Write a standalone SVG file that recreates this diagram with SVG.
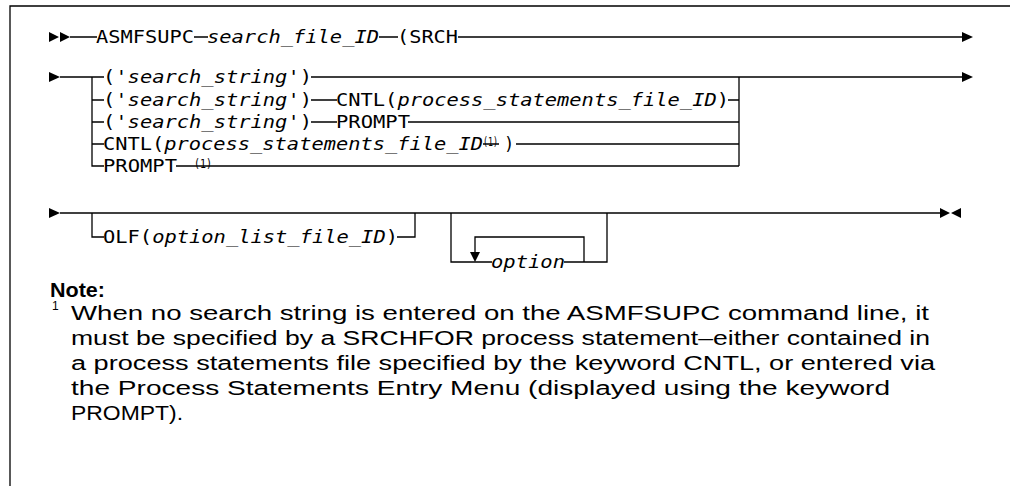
<svg xmlns="http://www.w3.org/2000/svg" width="1010" height="486" viewBox="0 0 1010 486">
<style>
.m{font-family:"DejaVu Sans Mono","Liberation Mono",monospace;font-size:17px;fill:#000}
.i{font-style:italic}
.sup{font-family:"DejaVu Sans Mono","Liberation Mono",monospace;font-size:12px;fill:#000}
.ln{fill:none;stroke:#000;stroke-width:1.3}
.ah{fill:#000;stroke:none}
.note{font-family:"Liberation Sans",Arial,sans-serif;font-size:20px;fill:#000}
.nb{font-family:"Liberation Sans",Arial,sans-serif;font-size:20px;font-weight:bold;fill:#000}
.fn{font-family:"Liberation Sans",Arial,sans-serif;font-size:12px;fill:#000}
</style>
<rect x="0" y="0" width="1010" height="486" fill="#fff"/>
<path class="ln" d="M10,486 V6 H1010"/>

<g id="connectors">
  <!-- row 1 -->
  <path class="ah" d="M49,32 L59,37 L49,42 Z M60,32 L70,37 L60,42 Z"/>
  <path class="ln" d="M70,37 H97 M194,37 H208 M379,37 H398 M458,37 H963"/>
  <path class="ah" d="M962,32 L973,37 L962,42 Z"/>
  <!-- row 2 -->
  <path class="ah" d="M49,72 L60,77 L49,82 Z"/>
  <path class="ln" d="M60,77 H104 M92,77 V166 H104 M311,77 H963"/>
  <path class="ah" d="M962,72 L973,77 L962,82 Z"/>
  <path class="ln" d="M92,100 H104 M92,122 H104 M92,144 H104"/>
  <path class="ln" d="M311,100 H337 M728,100 H739 M311,122 H337 M408,122 H739 M483,144 H499 M516,144 H739 M176,166 H739 M739,77 V166"/>
  <!-- row 3 -->
  <path class="ah" d="M49,208 L60,213 L49,218 Z"/>
  <path class="ln" d="M60,213 H941"/>
  <path class="ah" d="M940,208 L950,213 L940,218 Z M961,208 L951,213 L961,218 Z"/>
  <path class="ln" d="M92,213 V237 H104 M397,237 H415 V213"/>
  <path class="ln" d="M451,213 V262 H492 M564,262 H607 V213"/>
  <path class="ln" d="M584,262 V237 H475 V254"/>
  <path class="ah" d="M470,252 L480,252 L475,262 Z"/>
</g>

<g id="n-asmfsupc"><text class="m" x="96" y="43" textLength="98" lengthAdjust="spacingAndGlyphs">ASMFSUPC</text></g>
<g id="n-search-file-id"><text class="m i" x="207" y="43" textLength="172" lengthAdjust="spacingAndGlyphs">search_file_ID</text></g>
<g id="n-srch"><text class="m" x="397" y="43" textLength="61" lengthAdjust="spacingAndGlyphs">(SRCH</text></g>

<g id="n-opt1"><text class="m" x="103" y="83" textLength="209" lengthAdjust="spacingAndGlyphs">('<tspan class="i">search_string</tspan>')</text></g>
<g id="n-opt2"><text class="m" x="103" y="106" textLength="209" lengthAdjust="spacingAndGlyphs">('<tspan class="i">search_string</tspan>')</text>
  <text class="m" x="336" y="106" textLength="393" lengthAdjust="spacingAndGlyphs">CNTL(<tspan class="i">process_statements_file_ID</tspan>)</text></g>
<g id="n-opt3"><text class="m" x="103" y="128" textLength="209" lengthAdjust="spacingAndGlyphs">('<tspan class="i">search_string</tspan>')</text>
  <text class="m" x="336" y="128" textLength="74" lengthAdjust="spacingAndGlyphs">PROMPT</text></g>
<g id="n-opt4"><text class="m" x="103" y="150" textLength="380" lengthAdjust="spacingAndGlyphs">CNTL(<tspan class="i">process_statements_file_ID</tspan></text>
  <text class="sup" x="483" y="146" textLength="15" lengthAdjust="spacingAndGlyphs">(1)</text>
  <text class="m" x="504" y="150">)</text></g>
<g id="n-opt5"><text class="m" x="103" y="172" textLength="74" lengthAdjust="spacingAndGlyphs">PROMPT</text>
  <text class="sup" x="194" y="168" textLength="18" lengthAdjust="spacingAndGlyphs">(1)</text></g>

<g id="n-olf"><text class="m" x="103" y="243" textLength="295" lengthAdjust="spacingAndGlyphs">OLF(<tspan class="i">option_list_file_ID</tspan>)</text></g>
<g id="n-option"><text class="m i" x="491" y="268" textLength="74" lengthAdjust="spacingAndGlyphs">option</text></g>

<g id="note">
  <text class="nb" x="50" y="297" textLength="55" lengthAdjust="spacingAndGlyphs">Note:</text>
  <text class="fn" x="52" y="310">1</text>
  <text class="note" x="71" y="320" textLength="858" lengthAdjust="spacingAndGlyphs">When no search string is entered on the ASMFSUPC command line, it</text>
  <text class="note" x="71" y="345" textLength="859" lengthAdjust="spacingAndGlyphs">must be specified by a SRCHFOR process statement–either contained in</text>
  <text class="note" x="71" y="370" textLength="864" lengthAdjust="spacingAndGlyphs">a process statements file specified by the keyword CNTL, or entered via</text>
  <text class="note" x="71" y="395" textLength="819" lengthAdjust="spacingAndGlyphs">the Process Statements Entry Menu (displayed using the keyword</text>
  <text class="note" x="71" y="420" textLength="112" lengthAdjust="spacingAndGlyphs">PROMPT).</text>
</g>
</svg>
